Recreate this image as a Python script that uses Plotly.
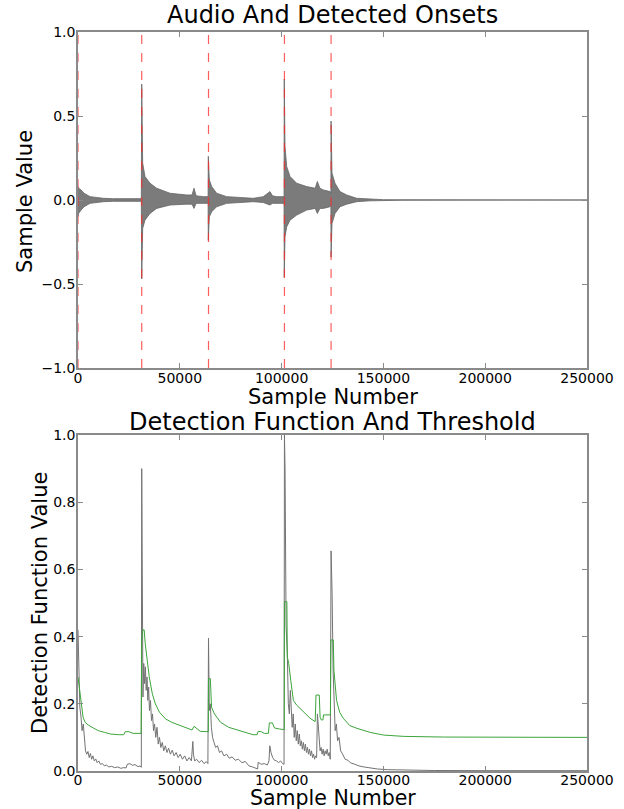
import plotly.graph_objects as go

# ---------------- data ----------------
onsets = [0, 31300, 64100, 101400, 124300]

wave_x = [0, 300, 1500, 3000, 5900, 9000, 12500, 17000, 22000, 25500, 29000, 31100,
          31300, 31760, 32900, 35360, 38640, 45190, 53370, 56000, 56970, 58000, 61560, 63900,
          64000, 64500, 65650, 68110, 73020, 81200, 86120, 91000, 94300, 95500, 97580, 101200,
          101300, 101670, 102490, 104130, 107400, 112310, 116500, 117550, 118800, 120500, 123770, 124200,
          124300, 124750, 126230, 128680, 131960, 136870, 143420, 150000, 160000, 250000]
wave_hi = [0.08, 0.07, 0.06, 0.04, 0.02, 0.015, 0.01, 0.008, 0.008, 0.012, 0.008, 0.008,
           0.69, 0.22, 0.14, 0.10, 0.07, 0.04, 0.03, 0.03, 0.07, 0.025, 0.02, 0.02,
           0.26, 0.12, 0.08, 0.04, 0.02, 0.012, 0.01, 0.02, 0.05, 0.025, 0.02, 0.02,
           0.72, 0.32, 0.20, 0.14, 0.10, 0.08, 0.07, 0.11, 0.07, 0.06, 0.05, 0.04,
           0.47, 0.16, 0.10, 0.05, 0.03, 0.01, 0.005, 0.002, 0.001, 0.0]
wave_lo = [-0.10, -0.08, -0.06, -0.04, -0.02, -0.015, -0.01, -0.008, -0.008, -0.012, -0.008, -0.008,
           -0.47, -0.17, -0.12, -0.08, -0.05, -0.03, -0.025, -0.025, -0.05, -0.02, -0.02, -0.02,
           -0.24, -0.10, -0.07, -0.04, -0.02, -0.012, -0.01, -0.015, -0.03, -0.02, -0.02, -0.02,
           -0.46, -0.22, -0.16, -0.12, -0.09, -0.06, -0.05, -0.08, -0.05, -0.05, -0.04, -0.03,
           -0.34, -0.14, -0.08, -0.04, -0.025, -0.01, -0.005, -0.002, -0.001, 0.0]

# detection function, read segment by segment
df_x = ([0, 400, 900, 1500, 2000, 2600, 3200, 3700, 4300, 4900, 5500, 6100, 6700, 7300, 8000,
         8700, 9400, 10200, 11000, 12000, 13000, 14000, 15000, 16500, 18000, 19500, 21000, 22500,
         23600, 24200, 25500, 26800, 28000, 29500, 30500, 31100]
        + [31300, 31600, 31900, 32300, 32700, 33100, 33500, 33900, 34300, 34700, 35100, 35600, 36100,
           36600, 37100, 37600, 38200, 38800, 39400, 40000, 40700, 41400, 42100, 42900, 43700, 44500,
           45400, 46300, 47200, 48200, 49200, 50200, 51300, 52400, 53500, 54600, 55700, 56400, 56700,
           57300, 58300, 59500, 60700, 61900, 63000, 63800]
        + [64100, 64500, 65000, 65500, 66100, 66800, 67600, 68500, 69500, 70500, 71700, 73000, 74300,
           75700, 77200, 78800, 80500, 82200, 84000, 85800, 87500, 88200, 88500, 90000, 91500, 93000,
           93800, 94200, 94800, 95600, 96500, 97500, 98500, 99500, 100500, 101200]
        + [101400, 101700, 102200, 102800, 103300, 103800, 104300, 104800, 105200, 105700, 106200,
           106700, 107200, 107700, 108200, 108700, 109200, 109700, 110200, 110700, 111200, 111700,
           112200, 112700, 113200, 113700, 114200, 114700, 115200, 115700, 116200, 116700, 117200,
           117600, 118000, 118400, 118900, 119400, 119900, 120400, 120900, 121400, 121900, 122400,
           122900, 123400, 123900]
        + [124300, 124800, 125300, 125800, 126300, 126900, 127500, 128200, 129000, 130000, 131200,
           132500, 134000, 136000, 138000, 140500, 143000, 147000, 152000, 160000, 175000, 200000, 250000])
df_y = ([0.42, 0.30, 0.19, 0.16, 0.12, 0.14, 0.10, 0.06, 0.05, 0.058, 0.04, 0.052, 0.035, 0.045, 0.03,
         0.036, 0.025, 0.03, 0.02, 0.022, 0.015, 0.018, 0.012, 0.014, 0.01, 0.012, 0.008, 0.01,
         0.009, 0.02, 0.022, 0.017, 0.019, 0.013, 0.015, 0.011]
        + [0.90, 0.65, 0.22, 0.32, 0.26, 0.31, 0.24, 0.28, 0.21, 0.25, 0.18, 0.21, 0.15,
           0.17, 0.12, 0.14, 0.10, 0.13, 0.08, 0.10, 0.07, 0.085, 0.06, 0.075, 0.055, 0.068,
           0.05, 0.062, 0.045, 0.055, 0.04, 0.05, 0.035, 0.045, 0.03, 0.04, 0.03, 0.088, 0.05,
           0.03, 0.035, 0.025, 0.032, 0.022, 0.028, 0.022]
        + [0.395, 0.18, 0.20, 0.13, 0.10, 0.085, 0.07, 0.075, 0.055, 0.06, 0.045, 0.05, 0.038,
           0.042, 0.032, 0.035, 0.025, 0.028, 0.015, 0.012, 0.006, 0.006, 0.026, 0.02, 0.022, 0.018,
           0.03, 0.075, 0.055, 0.04, 0.032, 0.03, 0.025, 0.03, 0.022, 0.02]
        + [1.0, 0.90, 0.43, 0.35, 0.20, 0.17, 0.24, 0.15, 0.13, 0.17, 0.10,
           0.14, 0.09, 0.12, 0.08, 0.11, 0.075, 0.09, 0.065, 0.085, 0.06, 0.08,
           0.055, 0.07, 0.05, 0.065, 0.045, 0.06, 0.04, 0.05, 0.035, 0.045, 0.04,
           0.17, 0.14, 0.10, 0.06, 0.07, 0.05, 0.065, 0.045, 0.06, 0.05, 0.065,
           0.045, 0.055, 0.035]
        + [0.655, 0.53, 0.30, 0.18, 0.12, 0.14, 0.09, 0.10, 0.06, 0.05, 0.035,
           0.032, 0.024, 0.02, 0.015, 0.012, 0.009, 0.006, 0.004, 0.003, 0.0015, 0.001, 0.001])

th_x = [0, 600, 1200, 1800, 2500, 3500, 5000, 7500, 10000, 13000, 16000, 20000, 22500, 23200, 25000,
        27000, 31000,
        31300, 31800, 32500, 33000, 34000, 35000, 36500, 38000, 40000, 43000, 46000, 50000, 54000, 56000,
        57000, 58000, 60000, 64000,
        64100, 65000, 65600, 67000, 70000, 74000, 80000, 86000, 88000, 88500, 90000, 91500, 93500, 94000,
        95500, 96500, 99000, 101300,
        101400, 102600, 102800, 103500, 104500, 105800, 107400, 110700, 114000, 116500, 116900, 118500,
        118900, 119500, 120300, 120600, 124000,
        124200, 125400, 125700, 126300, 127000, 128500, 130300, 133500, 137000, 143500, 150000, 160000,
        180000, 250000]
th_y = [0.28, 0.25, 0.21, 0.18, 0.16, 0.145, 0.137, 0.128, 0.12, 0.115, 0.11, 0.108, 0.108, 0.117, 0.117,
        0.112, 0.112,
        0.39, 0.42, 0.42, 0.38, 0.33, 0.28, 0.23, 0.20, 0.175, 0.155, 0.145, 0.135, 0.127, 0.122,
        0.133, 0.128, 0.118, 0.117,
        0.275, 0.275, 0.19, 0.17, 0.145, 0.13, 0.118, 0.108, 0.108, 0.118, 0.117, 0.112, 0.112, 0.143,
        0.143, 0.128, 0.125, 0.123,
        0.504, 0.504, 0.34, 0.32, 0.27, 0.21, 0.196, 0.176, 0.157, 0.147, 0.226, 0.226,
        0.16, 0.152, 0.152, 0.167, 0.167,
        0.39, 0.39, 0.30, 0.26, 0.21, 0.175, 0.157, 0.135, 0.127, 0.115, 0.107, 0.103,
        0.101, 0.10]

x_ticks = [0, 50000, 100000, 150000, 200000, 250000]
x_ticktext = ["0", "50000", "100000", "150000", "200000", "250000"]
top_yticks = [-1.0, -0.5, 0.0, 0.5, 1.0]
top_yticktext = ["\u22121.0", "\u22120.5", "0.0", "0.5", "1.0"]
bot_yticks = [0.0, 0.2, 0.4, 0.6, 0.8, 1.0]
bot_yticktext = ["0.0", "0.2", "0.4", "0.6", "0.8", "1.0"]

# ---------------- figure ----------------
FONT = "DejaVu Sans"
fig = go.Figure()

wave_col = "rgb(100,100,100)"
fig.add_trace(go.Scatter(x=wave_x, y=wave_hi, mode="lines", line=dict(color=wave_col, width=0.8),
                         xaxis="x", yaxis="y", showlegend=False, hoverinfo="skip"))
fig.add_trace(go.Scatter(x=wave_x, y=wave_lo, mode="lines", line=dict(color=wave_col, width=0.8),
                         fill="tonexty", fillcolor="rgba(100,100,100,0.85)",
                         xaxis="x", yaxis="y", showlegend=False, hoverinfo="skip"))

fig.add_trace(go.Scatter(x=df_x, y=df_y, mode="lines", line=dict(color="rgb(115,115,115)", width=1),
                         xaxis="x2", yaxis="y2", showlegend=False))
fig.add_trace(go.Scatter(x=th_x, y=th_y, mode="lines", line=dict(color="rgb(60,165,60)", width=1),
                         xaxis="x2", yaxis="y2", showlegend=False))

for o in onsets:
    fig.add_shape(type="line", xref="x", yref="y domain", x0=o, x1=o, y0=0, y1=1,
                  line=dict(color="rgba(255,40,40,0.75)", width=1.2, dash="dash"), layer="above")

W, H = 624, 809
L, R, T, B = 78, 37, 32, 38
ph = H - T - B

def py(px):
    return (H - B - px) / ph

def pxx(px):
    return (px - L) / (W - L - R)

axis_common = dict(showline=True, mirror="ticks", linecolor="#8a8a8a", linewidth=1.5,
                   ticks="inside", ticklen=5, tickwidth=1, tickcolor="#8a8a8a",
                   showgrid=False, zeroline=False,
                   tickfont=dict(family=FONT, size=14, color="black"), automargin=False)

fig.update_layout(
    width=W, height=H,
    margin=dict(l=L, r=R, t=T, b=B),
    paper_bgcolor="white", plot_bgcolor="white",
    font=dict(family=FONT, color="black"),
    xaxis=dict(domain=[0, 1], range=[0, 250000], anchor="y", ticklabelstandoff=-4,
               tickvals=x_ticks, ticktext=x_ticktext, **axis_common),
    yaxis=dict(domain=[py(368), 1], range=[-1, 1], anchor="x", ticklabelstandoff=-2,
               tickvals=top_yticks, ticktext=top_yticktext, **axis_common),
    xaxis2=dict(domain=[0, 1], range=[0, 250000], anchor="y2", ticklabelstandoff=-5,
                tickvals=x_ticks, ticktext=x_ticktext, **axis_common),
    yaxis2=dict(domain=[0, py(435)], range=[0, 1], anchor="x2", ticklabelstandoff=-2,
                tickvals=bot_yticks, ticktext=bot_yticktext, **axis_common),
)

ann = [
    ("Audio And Detected Onsets", 0.5, py(15), 24, 0),
    ("Detection Function And Threshold", 0.5, py(422), 24, 0),
    ("Sample Number", 0.5, py(397), 21, 0),
    ("Sample Number", 0.5, py(798), 20.5, 0),
    ("Sample Value", pxx(25), py(202), 21, -90),
    ("Detection Function Value", pxx(40), py(603), 21, -90),
]
for text, x, y, size, ang in ann:
    fig.add_annotation(text=text, x=x, y=y, xref="paper", yref="paper", showarrow=False,
                       xanchor="center", yanchor="middle", textangle=ang,
                       font=dict(family=FONT, size=size, color="black"))

fig.write_html("out.html", config={"displayModeBar": False},
               post_script="document.body.style.margin='0';document.body.style.overflow='hidden';")
